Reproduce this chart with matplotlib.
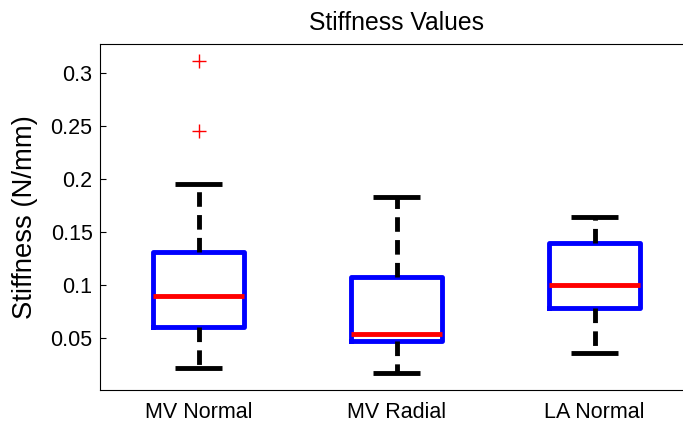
import matplotlib
matplotlib.use("Agg")
import matplotlib.pyplot as plt

plt.rcParams['font.family'] = ['Liberation Sans', 'DejaVu Sans']

# summary stats per group (N/mm)
groups = ['MV Normal', 'MV Radial', 'LA Normal']
q1 = [0.0604, 0.0475, 0.0787]
med = [0.0903, 0.0540, 0.1000]
q3 = [0.1315, 0.1075, 0.1400]
whis_lo = [0.0217, 0.0170, 0.0358]
whis_hi = [0.1960, 0.1837, 0.1648]
outliers = [[0.3116, 0.2460], [], []]

stats = []
for i in range(len(groups)):
    stats.append({'label': groups[i], 'q1': q1[i], 'med': med[i], 'q3': q3[i],
                  'whislo': whis_lo[i], 'whishi': whis_hi[i], 'fliers': outliers[i]})

fig = plt.figure(figsize=(6.83, 4.25), dpi=100)
# axes runs a bit past the right edge of the figure
ax = fig.add_axes([99.5 / 683, 35 / 425, 594 / 683, 346 / 425])

lw = 3.5
ax.bxp(stats, positions=[1, 2, 3], widths=0.455, capwidths=0.235,
       boxprops=dict(color='blue', linewidth=lw),
       medianprops=dict(color='red', linewidth=lw, solid_capstyle='butt'),
       whiskerprops=dict(color='black', linewidth=lw, linestyle=(0, (3, 1.7)), dash_capstyle='butt'),
       capprops=dict(color='black', linewidth=lw, solid_capstyle='butt'),
       flierprops=dict(marker='+', markeredgecolor='red', markersize=9.5, markeredgewidth=1.0))

ax.set_xlim(0.5, 3.5)
ax.set_ylim(0.0012, 0.3277)
ax.set_yticks([0.05, 0.1, 0.15, 0.2, 0.25, 0.3])
ax.set_yticklabels(['0.05', '0.1', '0.15', '0.2', '0.25', '0.3'])
ax.tick_params(axis='y', direction='in', length=4, width=0.8, labelsize=15.5, pad=5)
ax.tick_params(axis='x', length=0, labelsize=15.5, pad=9)

for s in ax.spines.values():
    s.set_linewidth(0.8)
ax.spines['right'].set_visible(False)

ax.set_title('Stiffness Values', fontsize=17.8, pad=10)
ax.set_ylabel('Stiffness (N/mm)', fontsize=19.8)
ax.yaxis.set_label_coords(-0.103, 0.5)

fig.savefig('out.png', dpi=100)
